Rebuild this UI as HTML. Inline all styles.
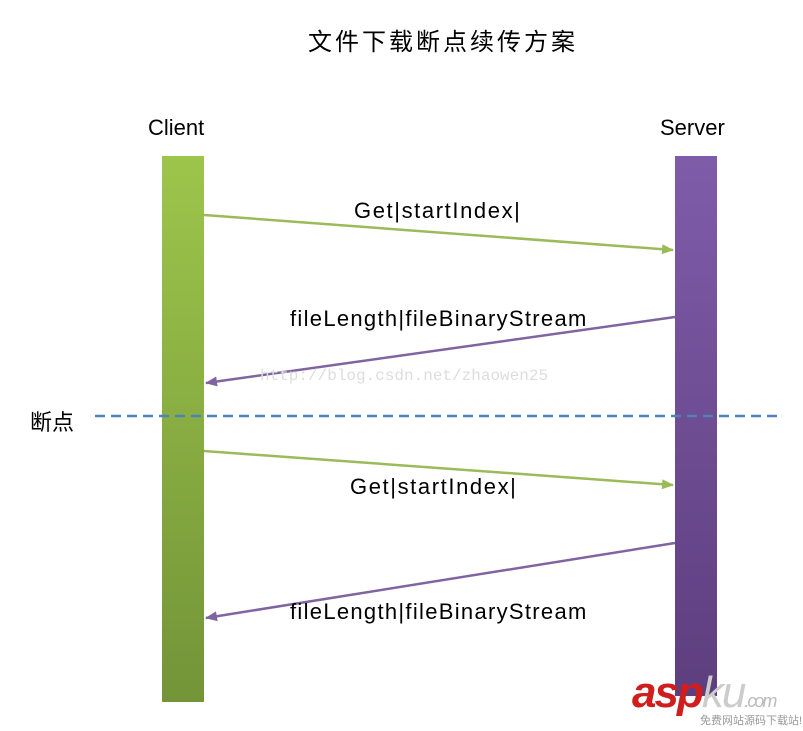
<!DOCTYPE html>
<html><head><meta charset="utf-8"><style>
body{margin:0;width:803px;height:731px;background:#fff;overflow:hidden;position:relative;font-family:"Liberation Sans","Noto Sans CJK SC",sans-serif}
.t{position:absolute;white-space:nowrap;color:#000}
.l{font-size:22px;letter-spacing:1.6px}
</style></head><body>
<svg width="803" height="731" style="position:absolute;left:0;top:0">
<defs>
<linearGradient id="g" x1="0" y1="0" x2="0" y2="1"><stop offset="0" stop-color="#9dc54b"/><stop offset="1" stop-color="#739438"/></linearGradient>
<linearGradient id="p" x1="0" y1="0" x2="0" y2="1"><stop offset="0" stop-color="#7f5ca9"/><stop offset="1" stop-color="#5d3e7e"/></linearGradient>
<marker id="ag" markerWidth="12" markerHeight="10" refX="11" refY="5" orient="auto" markerUnits="userSpaceOnUse"><path d="M0,0L12,5L0,10z" fill="#9bbb59"/></marker>
<marker id="ap" markerWidth="12" markerHeight="10" refX="11" refY="5" orient="auto" markerUnits="userSpaceOnUse"><path d="M0,0L12,5L0,10z" fill="#8064a2"/></marker>
</defs>
<rect x="162" y="156" width="42" height="546" fill="url(#g)"/>
<rect x="675" y="156" width="42" height="540" fill="url(#p)"/>
<line x1="95" y1="416" x2="780" y2="416" stroke="#4f81bd" stroke-width="2.5" stroke-dasharray="10,6"/>
<g stroke-width="2.5">
<line x1="204" y1="215" x2="673" y2="250" stroke="#9bbb59" marker-end="url(#ag)"/>
<line x1="675" y1="317" x2="206" y2="383" stroke="#8064a2" marker-end="url(#ap)"/>
<line x1="204" y1="451" x2="673" y2="485" stroke="#9bbb59" marker-end="url(#ag)"/>
<line x1="675" y1="543" x2="206" y2="618" stroke="#8064a2" marker-end="url(#ap)"/>
</g>
</svg>
<div class="t" style="left:308px;top:22px;font-size:24px;letter-spacing:3px">文件下载断点续传方案</div>
<div class="t" style="left:148px;top:115px;font-size:22px">Client</div>
<div class="t" style="left:660px;top:115px;font-size:22px">Server</div>
<div class="t l" style="left:354px;top:198px">Get|startIndex|</div>
<div class="t l" style="left:290px;top:306px;letter-spacing:1.3px">fileLength|fileBinaryStream</div>
<div class="t" style="left:260px;top:367px;font-size:16px;color:#ddd;font-family:'Liberation Mono',monospace">http://blog.csdn.net/zhaowen25</div>
<div class="t" style="left:30px;top:405px;font-size:22px">断点</div>
<div class="t l" style="left:350px;top:474px">Get|startIndex|</div>
<div class="t l" style="left:290px;top:599px;letter-spacing:1.3px">fileLength|fileBinaryStream</div>
<div class="t" style="left:632px;top:668px;font-size:44px;font-weight:bold;font-style:italic;color:#d01e1e;letter-spacing:-2px">asp<span style="color:#ccc;font-weight:normal">ku</span><span style="font-size:18px;color:#bbb;font-weight:normal">.com</span></div>
<div class="t" style="left:700px;top:712px;font-size:11px;color:#999">免费网站源码下载站!</div>
</body></html>
